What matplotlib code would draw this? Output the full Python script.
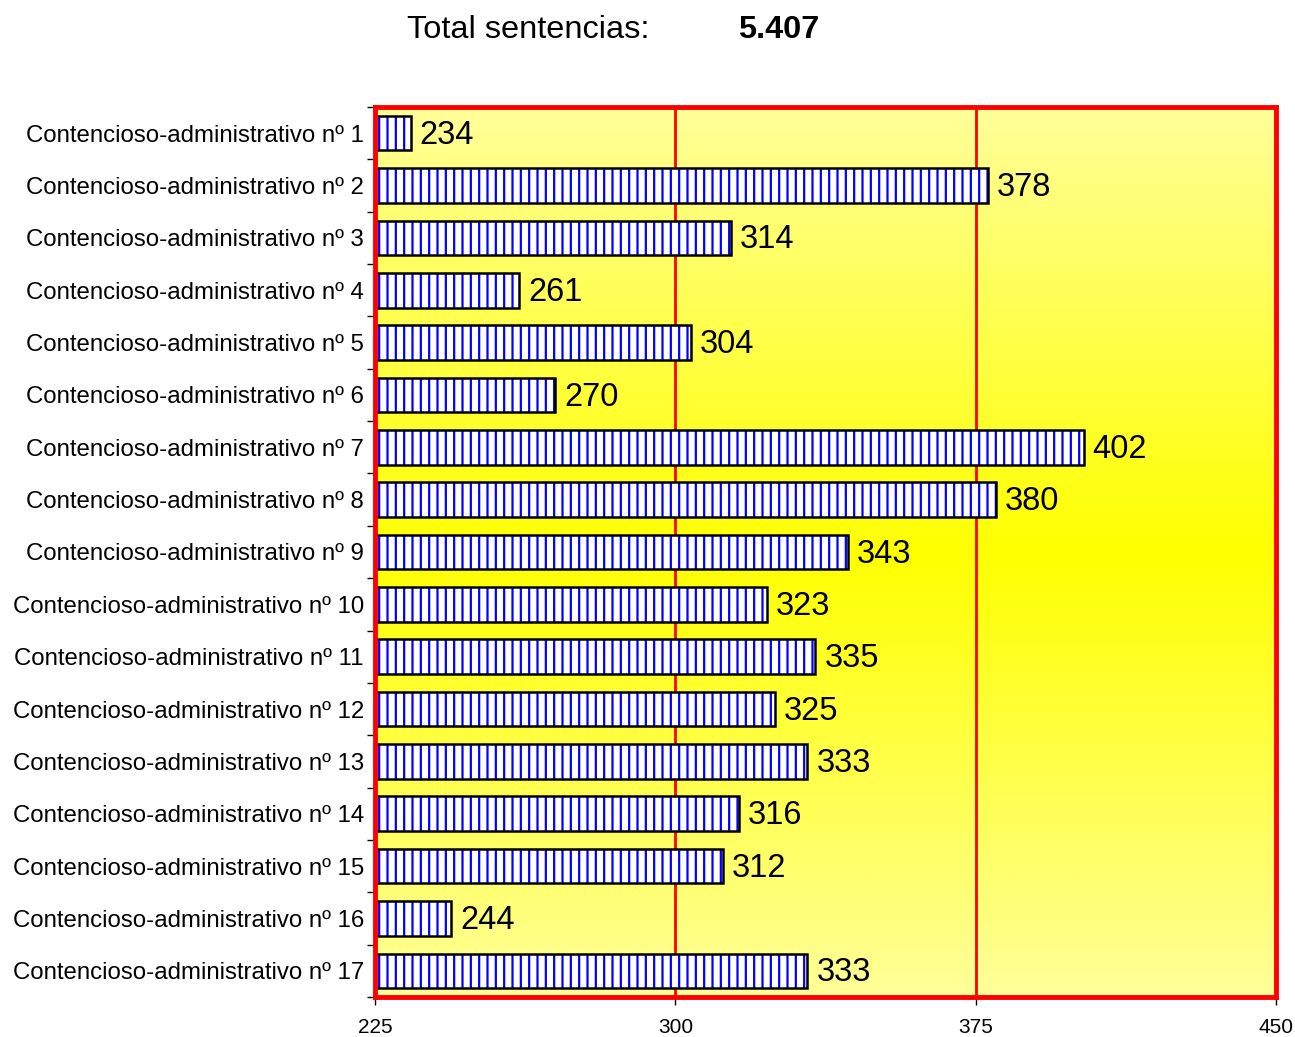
import numpy as np
import matplotlib
matplotlib.use("Agg")
import matplotlib.pyplot as plt
from matplotlib.colors import LinearSegmentedColormap

plt.rcParams['font.family'] = ['Liberation Sans', 'DejaVu Sans']
plt.rcParams['hatch.linewidth'] = 1.6

categories = [f"Contencioso-administrativo nº {i}" for i in range(1, 18)]
values = [234, 378, 314, 261, 304, 270, 402, 380, 343, 323, 335, 325, 333, 316, 312, 244, 333]
xticks = [225, 300, 375, 450]
total_label = "Total sentencias:"
total_value = "5.407"

fig = plt.figure(figsize=(12.95, 10.37), dpi=100)
ax = fig.add_axes([375/1295, 1 - 997/1037, (1276-375)/1295, (997-107)/1037])

# background gradient (pale at top/bottom, bright yellow in the middle)
t = np.linspace(0, 1, 400)
g = 1 - np.abs(t - 0.5) / 0.5
grad = g.reshape(-1, 1)
cmap = LinearSegmentedColormap.from_list('yl', ['#FFFF99', '#FFFF00'])
ax.imshow(grad, extent=[0, 1, 0, 1], transform=ax.transAxes, aspect='auto',
          cmap=cmap, vmin=0, vmax=1, zorder=0, interpolation='bicubic')

y = np.arange(len(categories))
widths = [v - 225 for v in values]
# hatched fill (blue vertical lines)
ax.barh(y, widths, left=225, height=0.66, color='white', edgecolor='#0000FF',
        linewidth=0, hatch='||', zorder=3)
# black outline
ax.barh(y, widths, left=225, height=0.66, fill=False, edgecolor='black',
        linewidth=1.8, zorder=4)

for yi, v in zip(y, values):
    ax.text(v + 2.2, yi + 0.04, str(v), va='center', ha='left', fontsize=23.5, zorder=5)

ax.set_xlim(225, 450)
ax.set_ylim(len(categories) - 0.5, -0.5)
ax.set_xticks(xticks)
ax.set_xticklabels([str(x) for x in xticks], fontsize=15)
ax.tick_params(axis='x', length=6, width=1, pad=9, color='black')
ax.set_yticks(y)
ax.set_yticklabels(categories, fontsize=17.3)
ax.tick_params(axis='y', which='major', length=0, pad=8)
ax.set_yticks(np.arange(-0.5, len(categories)), minor=True)
ax.tick_params(axis='y', which='minor', length=6, width=1, color='black')

for gx in [300, 375]:
    ax.axvline(gx, color='#FF0000', linewidth=2, zorder=1)

for s in ax.spines.values():
    s.set_color('#FF0000')
    s.set_linewidth(3.5)
    s.set_zorder(6)

fig.text(407/1295, 1 - 30/1037, total_label, fontsize=23.4, va='center', ha='left')
fig.text(738/1295, 1 - 30/1037, total_value, fontsize=23.4, va='center', ha='left', fontweight='bold')

fig.savefig('out.png', dpi=100)
